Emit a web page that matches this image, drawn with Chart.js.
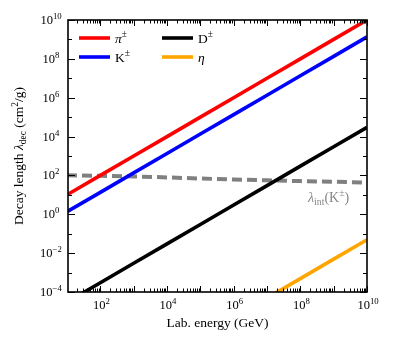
<!DOCTYPE html>
<html><head><meta charset="utf-8">
<script src="https://cdn.jsdelivr.net/npm/chart.js@4/dist/chart.umd.min.js"></script>
<style>html,body{margin:0;padding:0;background:#fff}</style>
</head><body>
<canvas id="c" width="395" height="345" style="width:395px;height:345px;display:block"></canvas>
<script>
// ---- data ----
const energies = [1e1, 1e2, 1e3, 1e4, 1e5, 1e6, 1e7, 1e8, 1e9, 1e10];          // GeV
const pionDecay = [1.0e1, 1.0e2, 1.0e3, 1.0e4, 1.0e5, 1.0e6, 1.0e7, 1.0e8, 1.0e9, 1.0e10];
const kaonDecay = [1.35, 1.35e1, 1.35e2, 1.35e3, 1.35e4, 1.35e5, 1.35e6, 1.35e7, 1.35e8, 1.35e9];
const dmesonDecay = [3.0e-5, 3.0e-4, 3.0e-3, 3.0e-2, 3.0e-1, 3.0, 3.0e1, 3.0e2, 3.0e3, 3.0e4];
const etaDecay = [4.9e-11, 4.9e-10, 4.9e-9, 4.9e-8, 4.9e-7, 4.9e-6, 4.9e-5, 4.9e-4, 4.9e-3, 4.9e-2];
const kaonInteraction = [102, 95, 89, 79, 69, 62, 56, 51, 47, 43];
// tick labels: value, base, exponent
const xTickValues = [1e2, 1e4, 1e6, 1e8, 1e10];
const xTickExponents = ['2', '4', '6', '8', '10'];
const yTickValues = [1e-4, 1e-2, 1e0, 1e2, 1e4, 1e6, 1e8, 1e10];
const yTickExponents = ['\u22124', '\u22122', '0', '2', '4', '6', '8', '10'];
const seriesNames = ['π±', 'K±', 'D±', 'η', 'λint(K±)'];
const seriesColors = ['#ff0000', '#0000ff', '#000000', '#ffa500', '#808080'];

const FAM = '"Liberation Serif", "Times New Roman", serif';
const pts = arr => energies.map((e, i) => ({x: e, y: arr[i]}));

function drawRich(ctx, parts, x, y, fs, align, color) {
  const segs = parts.map(p => {
    const m = p[1] || '';
    const small = m.includes('sub') || m.includes('sup');
    const size = small ? fs * 0.7 : fs;
    const font = (m.includes('it') ? 'italic ' : '') + size + 'px ' + FAM;
    ctx.font = font;
    return {t: p[0], font, w: ctx.measureText(p[0]).width,
            dy: m.includes('sup') ? -fs * 0.4 : (m.includes('sub') ? fs * 0.22 : 0)};
  });
  const total = segs.reduce((a, s) => a + s.w, 0);
  let cx = align === 'center' ? x - total / 2 : (align === 'right' ? x - total : x);
  ctx.fillStyle = color; ctx.textBaseline = 'alphabetic'; ctx.textAlign = 'left';
  segs.forEach(s => { ctx.font = s.font; ctx.fillText(s.t, cx, y + s.dy); cx += s.w; });
}

const decorPlugin = {
  id: 'decor',
  afterDatasetsDraw(chart) {
    const ctx = chart.ctx, a = chart.chartArea;
    const xs = chart.scales.x, ys = chart.scales.y;
    ctx.save();
    ctx.strokeStyle = '#000'; ctx.lineWidth = 1;
    // x ticks (inward, bottom and top)
    for (let d = 1; d <= 10; d++) {
      for (let m = 1; m <= 9; m++) {
        const v = m * Math.pow(10, d);
        if (v < xs.min * 0.999 || v > xs.max * 1.001) continue;
        const px = Math.round(xs.getPixelForValue(v)) + 0.5;
        const len = m === 1 ? 6 : 3.5;
        ctx.beginPath();
        ctx.moveTo(px, a.bottom); ctx.lineTo(px, a.bottom - len);
        ctx.moveTo(px, a.top); ctx.lineTo(px, a.top + len);
        ctx.stroke();
      }
    }
    // y ticks
    for (let e = -4; e <= 10; e++) {
      const py = Math.round(ys.getPixelForValue(Math.pow(10, e))) + 0.5;
      const len = (e % 2 === 0) ? 7 : 4;
      ctx.beginPath();
      ctx.moveTo(a.left, py); ctx.lineTo(a.left + len, py);
      ctx.moveTo(a.right, py); ctx.lineTo(a.right - len, py);
      ctx.stroke();
    }
    // frame
    ctx.lineWidth = 1.6;
    ctx.strokeRect(a.left, a.top, a.right - a.left, a.bottom - a.top);

    // tick labels
    xTickValues.forEach((v, i) => {
      drawRich(ctx, [['10'], [xTickExponents[i], 'sup']], xs.getPixelForValue(v) + 1, a.bottom + 17, 12.5, 'center', '#000');
    });
    yTickValues.forEach((v, i) => {
      drawRich(ctx, [['10'], [yTickExponents[i], 'sup']], a.left - 17, ys.getPixelForValue(v) + 4, 12.5, 'center', '#000');
    });

    // legend
    const legend = [
      {parts: [['π', 'it'], ['±', 'sup']], col: 0, row: 0, c: seriesColors[0]},
      {parts: [['K'], ['±', 'sup']], col: 0, row: 1, c: seriesColors[1]},
      {parts: [['D'], ['±', 'sup']], col: 1, row: 0, c: seriesColors[2]},
      {parts: [['η', 'it']], col: 1, row: 1, c: seriesColors[3]},
    ];
    legend.forEach(L => {
      const lx = a.left + 11 + L.col * 83;
      const ly = a.top + 18 + L.row * 19;
      ctx.strokeStyle = L.c; ctx.lineWidth = 3.6; ctx.lineCap = 'butt';
      ctx.beginPath(); ctx.moveTo(lx, ly); ctx.lineTo(lx + 31, ly); ctx.stroke();
      drawRich(ctx, L.parts, lx + 36, ly + 4.5, 13.5, 'left', '#000');
    });

    // annotation for interaction length
    drawRich(ctx, [['λ', 'it'], ['int', 'sub'], ['(K'], ['±', 'sup'], [')']],
      xs.getPixelForValue(1.7e8), ys.getPixelForValue(4.5), 14, 'left', '#888888');

    // axis titles
    drawRich(ctx, [['Lab. energy (GeV)']], (a.left + a.right) / 2, 327, 13.5, 'center', '#000');
    ctx.save();
    ctx.translate(23, (a.top + a.bottom) / 2);
    ctx.rotate(-Math.PI / 2);
    drawRich(ctx, [['Decay length '], ['λ', 'it'], ['dec', 'sub'], [' (cm'], ['2', 'sup'], ['/g)']],
      0, 0, 13.5, 'center', '#000');
    ctx.restore();
    ctx.restore();
  }
};

const mk = (i, arr, extra) => Object.assign({
  label: seriesNames[i], data: pts(arr), borderColor: seriesColors[i],
  backgroundColor: seriesColors[i], borderWidth: 3.6, pointRadius: 0,
  tension: 0, fill: false
}, extra || {});

new Chart(document.getElementById('c'), {
  type: 'line',
  data: {
    datasets: [
      mk(0, pionDecay, {order: 1}),
      mk(1, kaonDecay, {order: 2}),
      mk(2, dmesonDecay, {order: 3}),
      mk(3, etaDecay, {order: 4}),
      mk(4, kaonInteraction, {order: 5, borderDash: [10, 5], borderWidth: 4, borderCapStyle: 'butt'})
    ]
  },
  options: {
    responsive: false, animation: false, devicePixelRatio: 1,
    layout: {padding: {top: 20, right: 28, left: 0, bottom: 0}},
    plugins: {legend: {display: false}, tooltip: {enabled: false}},
    scales: {
      x: {
        type: 'logarithmic', min: 10.7, max: 1e10,
        grid: {display: false}, border: {display: false},
        afterBuildTicks: s => { s.ticks = xTickValues.map(v => ({value: v})); },
        afterFit: s => { s.height = 53; },
        ticks: {display: false}
      },
      y: {
        type: 'logarithmic', min: 1e-4, max: 1e10,
        grid: {display: false}, border: {display: false},
        afterBuildTicks: s => { s.ticks = yTickValues.map(v => ({value: v})); },
        afterFit: s => { s.width = 68; },
        ticks: {display: false}
      }
    }
  },
  plugins: [decorPlugin]
});
</script>
</body></html>
